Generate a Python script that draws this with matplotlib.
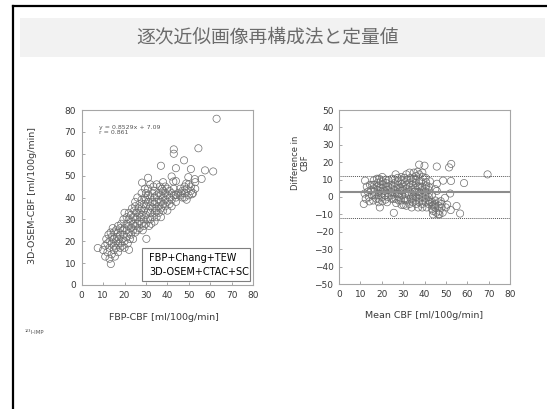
import numpy as np
import matplotlib.pyplot as plt
from matplotlib.patches import Rectangle

plt.rcParams['font.family'] = ['DejaVu Sans']

# FBP+Chang+TEW (x) vs 3D-OSEM+CTAC+SC (y)
fbp_cbf = [
    # outliers / edge points
    63, 43, 43, 54.5, 37, 47.8, 44, 57.6, 61.4, 52.8, 42, 42.8, 7.5, 13.6, 30.2, 22.1,
    28.2, 31, 51, 49.8, 56, 53, 51.5, 49, 51, 48, 51, 44, 48.8, 46.5, 44,
    # 10-15
    10, 11, 11, 11.5, 12, 12, 12.5, 13, 13, 13, 13.5, 14, 14, 14, 14.5, 15, 15, 15, 15, 15.5,
    # 15-20
    16, 16, 16, 16.5, 17, 17, 17, 17, 17.5, 18, 18, 18, 18, 18.5, 19, 19, 19, 19.5, 19.5,
    20, 20, 20, 20,
    # 20-25
    21, 21, 21, 21, 21.5, 22, 22, 22, 22, 22.5, 23, 23, 23, 23, 23.5, 24, 24, 24, 24, 24.5,
    25, 25, 25, 25, 25, 25.5,
    # 25-30
    26, 26, 26, 26, 26.5, 27, 27, 27, 27, 27.5, 28, 28, 28, 28, 28, 28.5, 29, 29, 29, 29,
    29.5, 29.5, 30, 30, 30, 30, 30,
    # 30-35
    31, 31, 31, 31, 31, 31.5, 32, 32, 32, 32, 32, 32.5, 33, 33, 33, 33, 33.5, 34, 34, 34,
    34, 34, 34.5, 35, 35, 35, 35, 35,
    # 35-40
    36, 36, 36, 36, 36.5, 37, 37, 37, 37, 37.5, 38, 38, 38, 38, 38, 39, 39, 39, 39,
    40, 40, 40, 40,
    # 40-55
    41, 41, 41, 42, 42, 42, 43, 43, 44, 44, 45, 46, 46, 47, 47, 48, 48, 49, 50, 50, 52, 53,
]
osem_cbf = [
    76, 62, 60, 62.5, 54.5, 57, 53.4, 52.4, 51.9, 48.4, 49.6, 47.3, 16.9, 9.6, 21.1, 16.1,
    46.8, 49, 53, 49.3, 48.5, 47, 41.5, 39, 43, 40, 45, 47.5, 46.4, 41.9, 41.2,
    16, 18, 13, 21, 15, 19, 23, 12, 17, 20, 24, 14, 19, 22, 26, 16, 21, 18, 24, 13,
    20, 25, 17, 22, 15, 19, 24, 27, 21, 17, 23, 26, 19, 28, 21, 25, 18, 23, 30,
    20, 26, 17, 33,
    22, 28, 25, 31, 19, 24, 27, 30, 33, 21, 26, 29, 23, 32, 35, 25, 28, 31, 21, 34,
    27, 30, 24, 36, 38, 33,
    28, 31, 25, 40, 35, 29, 33, 37, 26, 31, 28, 35, 39, 42, 32, 25, 30, 34, 37, 27,
    40, 44, 32, 36, 28, 39, 42,
    30, 34, 38, 41, 44, 27, 33, 36, 40, 30, 46, 28, 35, 38, 42, 31, 45, 33, 37, 40,
    43, 29, 35, 38, 41, 34, 46, 31,
    36, 39, 42, 33, 45, 38, 41, 35, 31, 44, 37, 40, 43, 47, 34, 39, 36, 42, 45,
    38, 41, 34, 44,
    37, 40, 43, 39, 42, 36, 41, 44, 40, 38, 42, 41, 44, 43, 40, 42, 45, 44, 41, 46, 42, 44,
]

mean_diff = 2.9
loa_upper = 11.8
loa_lower = -11.8

title = '逐次近似画像再構成法と定量値'
eq_text = 'y = 0.8529x + 7.09\nr = 0.861'
legend_text = 'FBP+Chang+TEW\n3D-OSEM+CTAC+SC'

x = np.array(fbp_cbf)
y = np.array(osem_cbf)
ba_mean = (x + y) / 2
ba_diff = y - x

W, H = 547, 409
fig = plt.figure(figsize=(W / 100, H / 100), dpi=100)


def px_box(x0, y0, x1, y1):
    return [x0 / W, 1 - y1 / H, (x1 - x0) / W, (y1 - y0) / H]


# slide background
bg = fig.add_axes([0, 0, 1, 1])
bg.set_xlim(0, W)
bg.set_ylim(H, 0)
bg.axis('off')
bg.plot([12.5, 12.5], [H, 5.5], color='black', lw=1.6, solid_capstyle='projecting')
bg.plot([12.5, W], [5.5, 5.5], color='black', lw=1.6, solid_capstyle='projecting')
bg.add_patch(Rectangle((20, 18), 525, 39, color='#f2f2f2', lw=0))
bg.text(268, 37, title, ha='center', va='center', fontsize=13.5, color='#6b6b6b',
        family=['Noto Sans CJK JP', 'DejaVu Sans'])

txt_col = '#3a3a3a'
mk_col = '#6e6e6e'


def style(ax):
    for s in ax.spines.values():
        s.set_color('#a6a6a6')
        s.set_linewidth(0.8)
    ax.tick_params(direction='in', length=2.5, width=0.6, color='#999999',
                   labelsize=6.5, labelcolor=txt_col, pad=4)


# left: scatter
ax1 = fig.add_axes(px_box(81.7, 110, 253, 285))
ax1.scatter(x, y, s=27, facecolors='none', edgecolors=mk_col, linewidths=0.5)
ax1.set_xlim(0, 80)
ax1.set_ylim(0, 80)
ax1.set_xticks(range(0, 81, 10))
ax1.set_yticks(range(0, 81, 10))
style(ax1)
ax1.text(0.10, 0.887, eq_text, transform=ax1.transAxes, fontsize=4.5, color='#555555',
         va='center', linespacing=1.1)
ax1.add_patch(Rectangle((0.35, 0.0225), 0.63, 0.19, transform=ax1.transAxes,
                        facecolor='white', edgecolor='#7f7f7f', lw=0.8, zorder=3))
ax1.text(0.395, 0.116, legend_text, transform=ax1.transAxes, fontsize=7, color='black',
         va='center', linespacing=1.5, zorder=4)

# right: Bland-Altman
ax2 = fig.add_axes(px_box(339, 110, 510, 284))
ax2.scatter(ba_mean, ba_diff, s=27, facecolors='none', edgecolors=mk_col, linewidths=0.5)
ax2.axhline(mean_diff, color='#8c8c8c', lw=1.5)
ax2.axhline(loa_upper, color='#555555', lw=0.7, ls=(0, (1, 1)))
ax2.axhline(loa_lower, color='#555555', lw=0.7, ls=(0, (1, 1)))
ax2.set_xlim(0, 80)
ax2.set_ylim(-50, 50)
ax2.set_xticks(range(0, 81, 10))
ax2.set_yticks(range(-50, 51, 10))
style(ax2)

# labels
bg.text(164, 317, 'FBP-CBF [ml/100g/min]', ha='center', va='center', fontsize=6.8, color=txt_col)
bg.text(33, 196, '3D-OSEM-CBF [ml/100g/min]', ha='center', va='center', rotation=90,
        fontsize=6.8, color=txt_col)
bg.text(424, 315, 'Mean CBF [ml/100g/min]', ha='center', va='center', fontsize=6.8, color=txt_col)
bg.text(300, 163, 'Difference in\nCBF', ha='center', va='center', rotation=90,
        fontsize=6, color=txt_col, linespacing=1.0)
bg.text(25, 332, '¹²³I-IMP', ha='left', va='center', fontsize=4, color='#555555')

fig.savefig('out.png', dpi=100)
